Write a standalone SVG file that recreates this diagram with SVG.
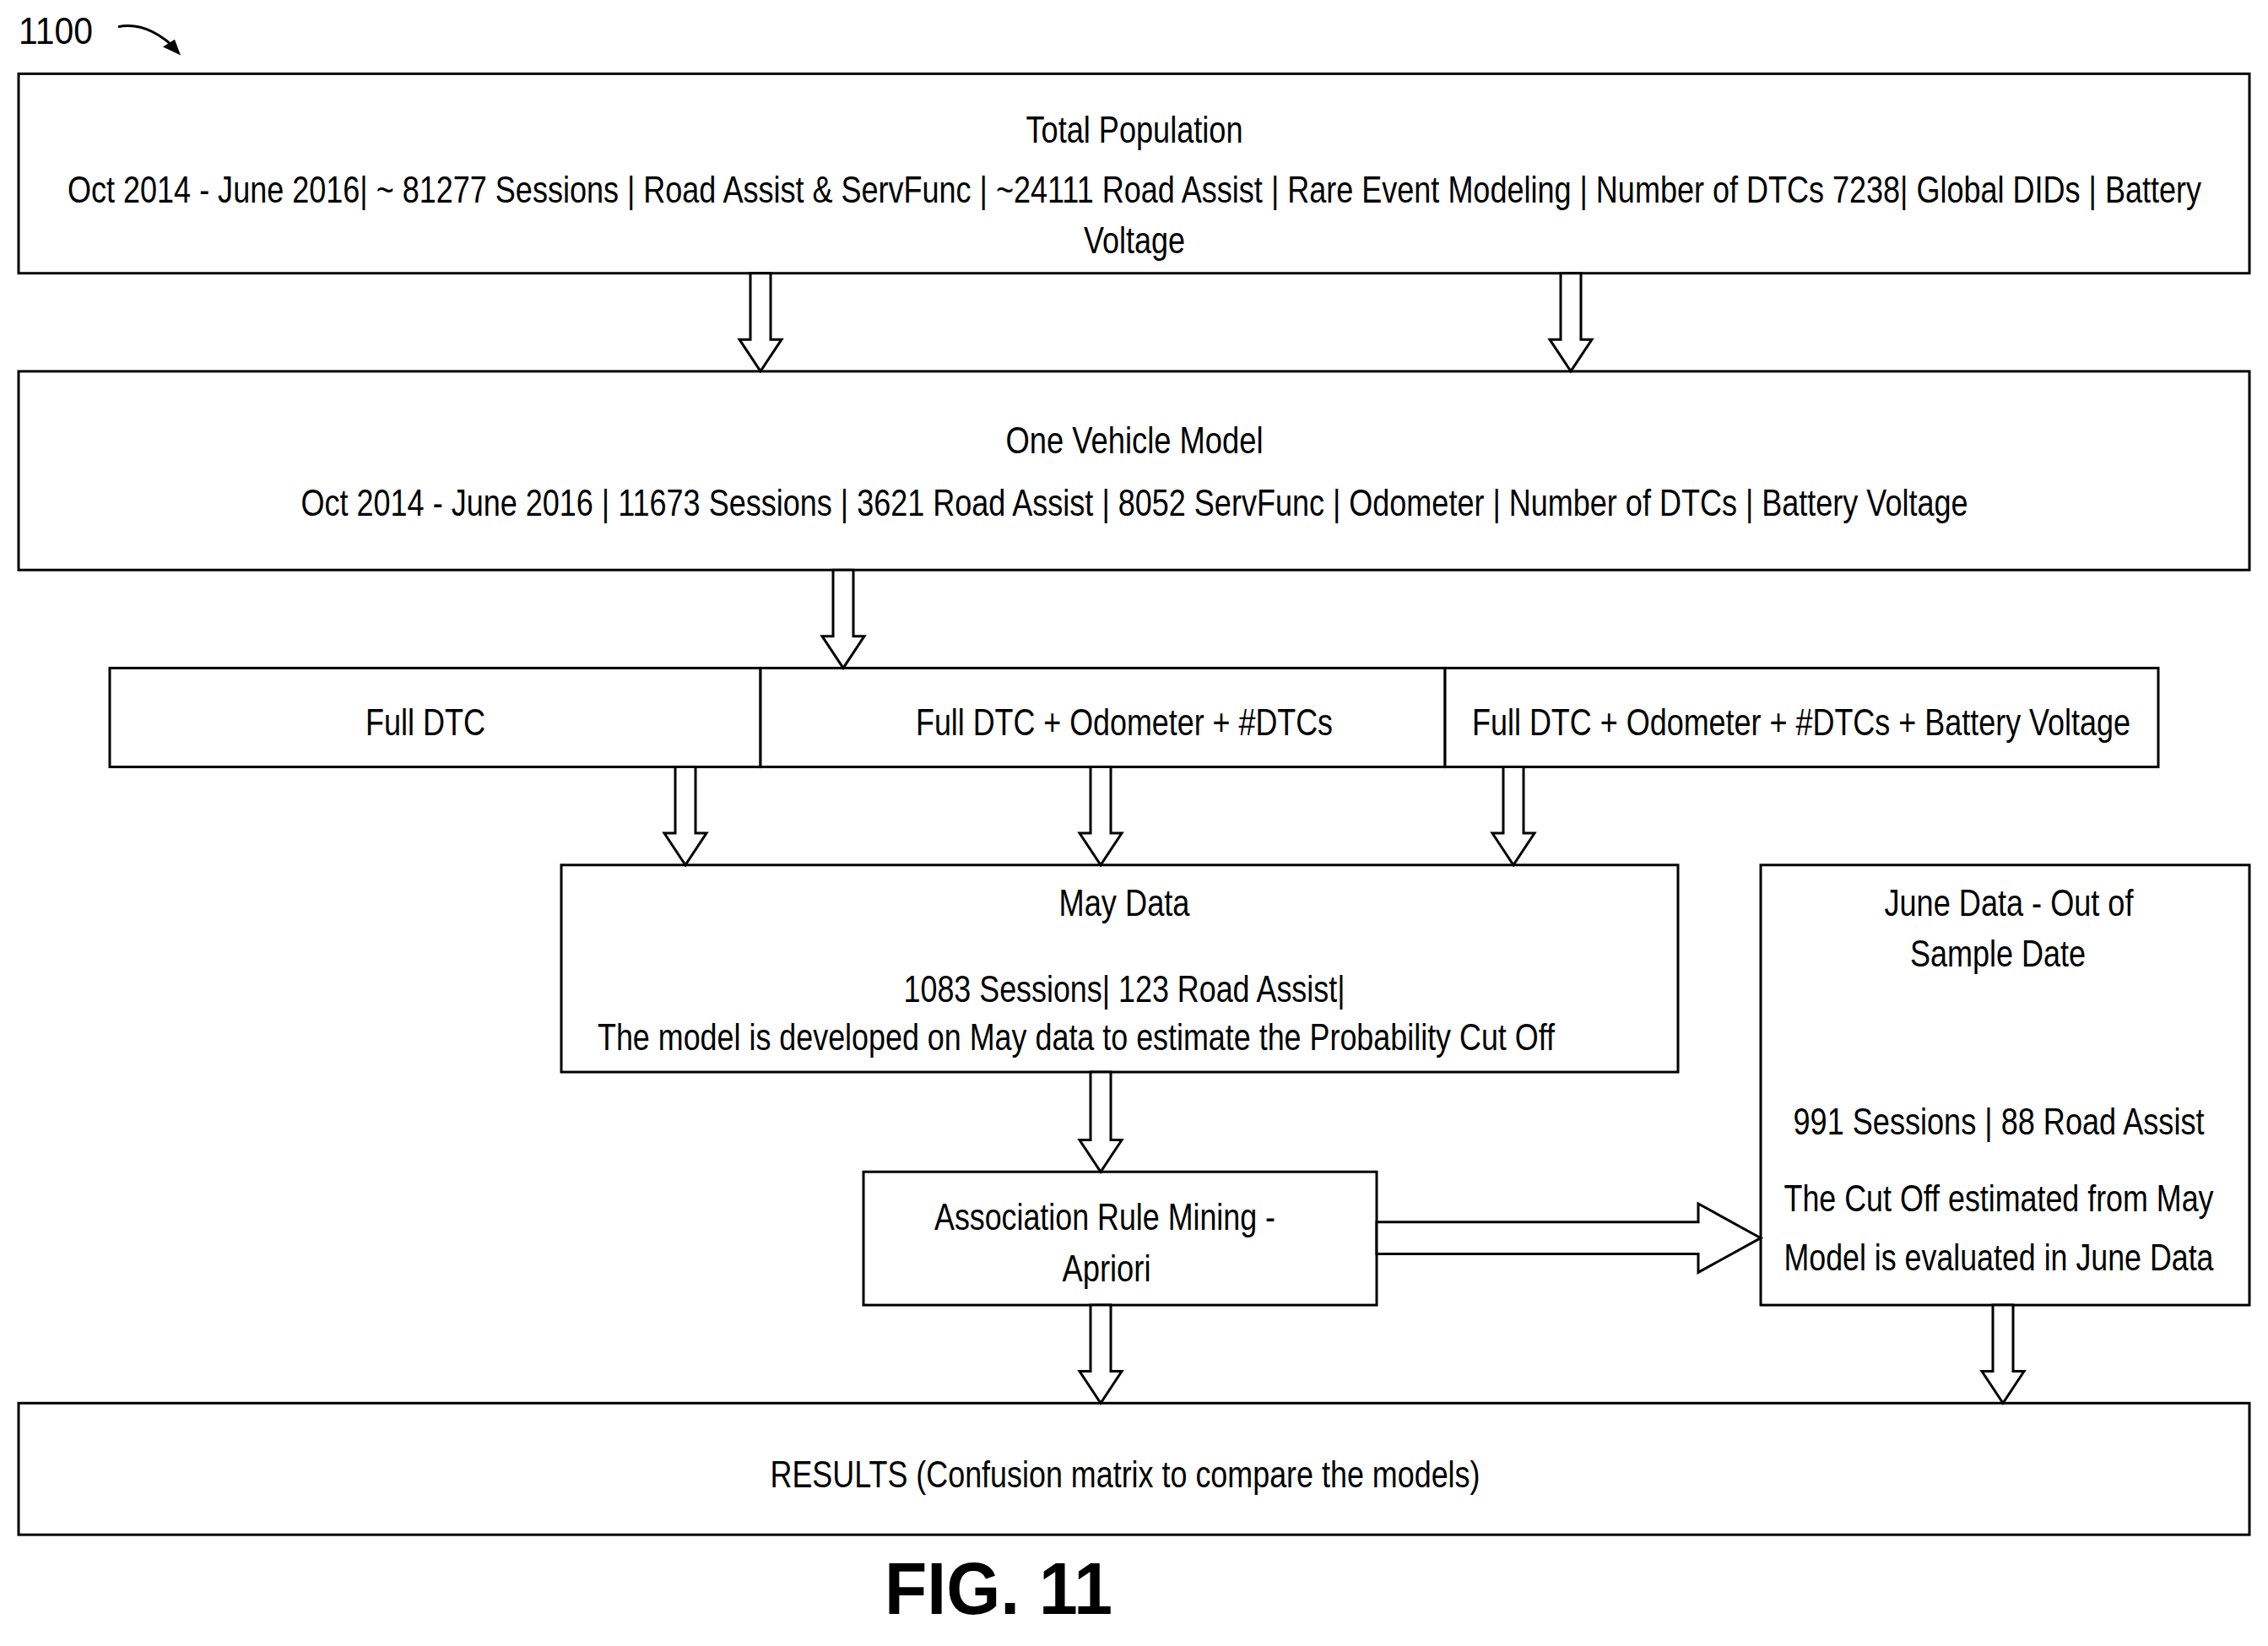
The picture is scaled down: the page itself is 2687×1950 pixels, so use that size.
<svg xmlns="http://www.w3.org/2000/svg" width="2687" height="1950" viewBox="0 0 2687 1950">
<style>
rect{fill:#fff;stroke:#000;stroke-width:3}
text{font-family:"Liberation Sans",Arial,sans-serif;font-size:44px;text-anchor:middle;fill:#000}
.ar{fill:#fff;stroke:#000;stroke-width:3}
</style>
<rect x="0" y="0" width="2687" height="1950" style="stroke:none"/>
<g transform="scale(1,0.993)">
<text x="22" y="52" style="text-anchor:start" textLength="88" lengthAdjust="spacingAndGlyphs">1100</text>
<path d="M140 32 Q175 25 210 60" fill="none" stroke="#000" stroke-width="3"/>
<path d="M214 66 L193 56 L207 47 Z" fill="#000"/>
<g id="n1"><rect x="22" y="88" width="2643" height="238"/>
<text x="1344" y="170" textLength="257" lengthAdjust="spacingAndGlyphs">Total Population</text>
<text x="1344" y="242" textLength="2528" lengthAdjust="spacingAndGlyphs">Oct 2014 - June 2016| ~ 81277 Sessions | Road Assist &amp; ServFunc | ~24111 Road Assist | Rare Event Modeling | Number of DTCs 7238| Global DIDs | Battery</text>
<text x="1344" y="302" textLength="120" lengthAdjust="spacingAndGlyphs">Voltage</text></g>
<g id="n2"><rect x="22" y="443" width="2643" height="237"/>
<text x="1344" y="541" textLength="305" lengthAdjust="spacingAndGlyphs">One Vehicle Model</text>
<text x="1344" y="615" textLength="1975" lengthAdjust="spacingAndGlyphs">Oct 2014 - June 2016 | 11673 Sessions | 3621 Road Assist | 8052 ServFunc | Odometer | Number of DTCs | Battery Voltage</text></g>
<g id="n3"><rect x="130" y="797" width="771" height="118"/>
<text x="504" y="877" textLength="142" lengthAdjust="spacingAndGlyphs">Full DTC</text></g>
<g id="n4"><rect x="901" y="797" width="811" height="118"/>
<text x="1332" y="877" textLength="494" lengthAdjust="spacingAndGlyphs">Full DTC + Odometer + #DTCs</text></g>
<g id="n5"><rect x="1712" y="797" width="845" height="118"/>
<text x="2134" y="877" textLength="780" lengthAdjust="spacingAndGlyphs">Full DTC + Odometer + #DTCs + Battery Voltage</text></g>
<g id="n6"><rect x="665" y="1032" width="1323" height="247"/>
<text x="1332" y="1093" textLength="155" lengthAdjust="spacingAndGlyphs">May Data</text>
<text x="1332" y="1195" textLength="523" lengthAdjust="spacingAndGlyphs">1083 Sessions| 123 Road Assist|</text>
<text x="1275" y="1253" textLength="1134" lengthAdjust="spacingAndGlyphs">The model is developed on May data to estimate the Probability Cut Off</text></g>
<g id="n7"><rect x="2086" y="1032" width="579" height="525"/>
<text x="2380" y="1093" textLength="295" lengthAdjust="spacingAndGlyphs">June Data - Out of</text>
<text x="2367" y="1153" textLength="208" lengthAdjust="spacingAndGlyphs">Sample Date</text>
<text x="2368" y="1353" textLength="487" lengthAdjust="spacingAndGlyphs">991 Sessions | 88 Road Assist</text>
<text x="2368" y="1445" textLength="509" lengthAdjust="spacingAndGlyphs">The Cut Off estimated from May</text>
<text x="2368" y="1516" textLength="509" lengthAdjust="spacingAndGlyphs">Model is evaluated in June Data</text></g>
<g id="n8"><rect x="1023" y="1398" width="608" height="159"/>
<text x="1309" y="1467" textLength="404" lengthAdjust="spacingAndGlyphs">Association Rule Mining -</text>
<text x="1311" y="1529" textLength="105" lengthAdjust="spacingAndGlyphs">Apriori</text></g>
<g id="n9"><rect x="22" y="1674" width="2643" height="157"/>
<text x="1333" y="1774" textLength="841" lengthAdjust="spacingAndGlyphs">RESULTS (Confusion matrix to compare the models)</text></g>
<g id="connectors">
<path class="ar" d="M889 326 V405 H876 L901 443 L926 405 H913 V326 Z"/>
<path class="ar" d="M1849 326 V405 H1836 L1861 443 L1886 405 H1873 V326 Z"/>
<path class="ar" d="M987 680 V759 H974 L999 797 L1024 759 H1011 V680 Z"/>
<path class="ar" d="M800 915 V994 H787 L812 1032 L837 994 H824 V915 Z"/>
<path class="ar" d="M1292 915 V994 H1279 L1304 1032 L1329 994 H1316 V915 Z"/>
<path class="ar" d="M1781 915 V994 H1768 L1793 1032 L1818 994 H1805 V915 Z"/>
<path class="ar" d="M1292 1279 V1360 H1279 L1304 1398 L1329 1360 H1316 V1279 Z"/>
<path class="ar" d="M1292 1557 V1636 H1279 L1304 1674 L1329 1636 H1316 V1557 Z"/>
<path class="ar" d="M2361 1557 V1636 H2348 L2373 1674 L2398 1636 H2385 V1557 Z"/>
<path class="ar" d="M1631 1458 H2012 V1436 L2086 1477 L2012 1518 V1496 H1631 Z"/>
</g>
<text x="1183" y="1925" style="font-size:88px;font-weight:bold" textLength="270" lengthAdjust="spacingAndGlyphs">FIG. 11</text>
</g>
</svg>
